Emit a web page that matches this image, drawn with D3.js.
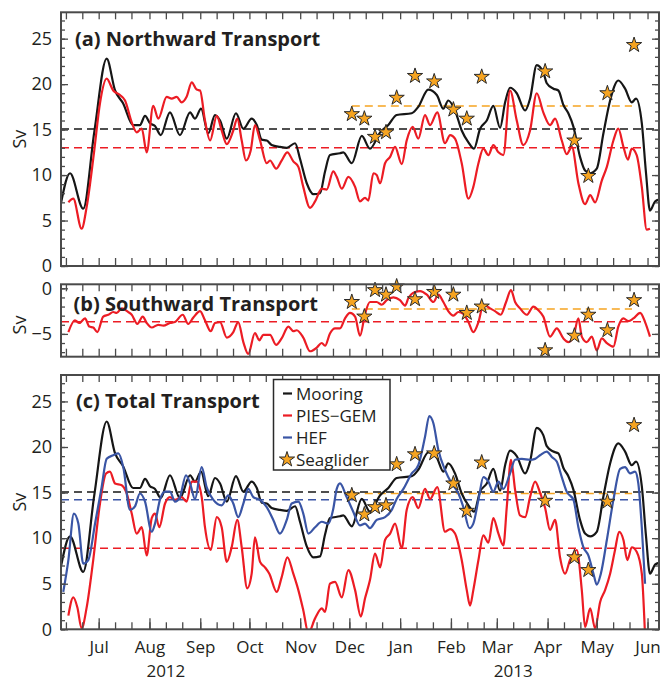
<!DOCTYPE html>
<html>
<head>
<meta charset="utf-8">
<script src="https://cdn.jsdelivr.net/npm/d3@7"></script>
<style>
  body { margin: 0; background: #fff; }
  svg { display: block; }
  text { font-family: "Open Sans", "DejaVu Sans", sans-serif; fill: #231f20; }
</style>
</head>
<body>
<svg id="chart" width="665" height="681"></svg>
<script>
// ---- record period ----
const recordStart = new Date(2012, 5, 8);
const recordEnd = new Date(2013, 5, 8);

// ---- transport time series: [day of record, Sv] ----
const mooring = [
  [0, 6.9], [5.5, 10.2], [13.6, 6.3], [20.3, 14.7], [27.9, 22.8], [33, 19.3], [37.9, 17.9],
  [44, 15.5], [48.2, 15.5], [51.3, 16.5], [54.3, 15.7], [57.4, 15.4], [60.9, 14.4], [66.5, 16.9],
  [72.6, 14.4], [78.8, 16.9], [81.8, 16.2], [85.5, 17.3], [89.9, 14.6], [94, 16.6], [97.1, 16.0],
  [101.2, 14.0], [106.8, 16.8], [111.3, 15.1], [116.4, 16.2], [119.5, 15.5], [122.5, 13.9],
  [125.6, 13.8], [128.6, 13.3], [133.7, 13.1], [137.8, 13.0], [142.9, 13.5], [145.9, 11.8],
  [150, 9.1], [154, 7.9], [158.1, 8.0], [161.2, 10.4], [164.2, 12.2], [170.3, 12.4], [172.3, 12.5],
  [177.5, 11.3], [183.6, 14.3], [188.6, 12.9], [194.8, 14.7], [199.8, 15.5], [204.9, 16.6],
  [214.1, 16.8], [218.1, 17.5], [224.2, 19.4], [229.4, 18.8], [233.4, 17.3], [236.4, 18.2],
  [240.5, 17.1], [244.6, 14.9], [248.7, 13.6], [252.1, 12.9], [255.8, 15.1], [259.9, 16.0],
  [263.9, 17.6], [268, 15.2], [271.1, 18.0], [274.1, 19.6], [278.2, 19.0], [283.3, 17.1],
  [286.3, 18.4], [290.4, 22.1], [294.4, 21.3], [296.5, 20.1], [300.5, 19.5], [303.6, 19.3],
  [306.7, 17.7], [309.7, 16.8], [312.8, 15.3], [316.8, 12.0], [319.9, 10.5], [323, 10.2],
  [327, 10.7], [331.1, 14.6], [335.2, 18.2], [340.2, 20.4], [344.3, 19.5], [348.4, 18.0],
  [351, 18.4], [354.5, 15.7], [357.1, 10.2], [359.5, 6.1], [362.6, 7.1], [365, 7.3]
];

const piesNorth = [
  [4.5, 7.0], [7.5, 7.4], [12.6, 4.1], [15.7, 6.5], [20.3, 12.7], [23.8, 17.9], [27.9, 20.6],
  [31.9, 19.3], [36, 18.8], [39.1, 18.2], [43.2, 15.8], [46.2, 14.7], [49.3, 15.1], [52.3, 12.5],
  [56.3, 17.6], [59.4, 16.2], [64.5, 18.6], [67.6, 18.4], [70.6, 18.6], [73.7, 18.0], [76.7, 18.6],
  [79.8, 20.2], [82.8, 19.4], [84.9, 19.3], [87.9, 16.0], [91, 13.8], [95.1, 16.5], [98.1, 14.9],
  [101.2, 13.4], [105.2, 14.9], [107.6, 16.2], [110.3, 13.8], [112.9, 11.6], [115.8, 12.7],
  [118.4, 15.5], [121.5, 13.8], [125.6, 11.3], [127.6, 11.6], [131.3, 10.7], [134.7, 11.6],
  [138.2, 12.5], [141.8, 11.5], [144.9, 10.9], [147.9, 8.7], [152, 6.4], [155.1, 7.1],
  [159.2, 8.5], [162.2, 8.4], [166.2, 10.4], [168.3, 9.8], [171.4, 8.5], [175.4, 9.8],
  [179.5, 8.7], [182.5, 7.1], [185.6, 7.5], [187.6, 7.2], [190.7, 10.2], [192.7, 10.0],
  [194.8, 9.1], [197.8, 11.3], [200.9, 12.0], [203.9, 13.1], [208, 11.2], [211, 13.8],
  [214.7, 15.3], [218.1, 14.0], [222.2, 16.6], [225.3, 15.5], [229.7, 16.9], [234.4, 13.5],
  [237.5, 14.4], [240.5, 14.0], [244.6, 11.3], [248.7, 7.4], [251.7, 8.7], [254.8, 11.3],
  [257.8, 12.9], [260.9, 12.2], [263.9, 13.3], [267, 12.5], [270, 12.2], [274.1, 19.3],
  [278.2, 16.0], [282.2, 13.3], [286.3, 14.9], [290.4, 19.0], [294.4, 16.9], [298.5, 15.5],
  [301.6, 16.2], [305.7, 13.8], [308.7, 12.3], [311.8, 13.1], [315.8, 9.1], [319.9, 6.8],
  [323, 7.8], [326, 7.0], [330.1, 9.4], [333.2, 10.9], [337.2, 13.8], [340.2, 15.1], [343.3, 13.1],
  [346, 11.7], [348.4, 12.9], [351.4, 12.2], [354.5, 8.7], [357.5, 4.0], [359.5, 4.1]
];

const piesSouth = [
  [4.5, -4.8], [8.5, -3.5], [11.2, -3.8], [14.7, -3.3], [17.3, -4.2], [19.7, -4.3], [22.2, -4.8],
  [25.8, -3.1], [28.9, -2.9], [31.9, -2.6], [34, -2.7], [37.1, -2.2], [41.1, -2.6], [43.2, -2.9],
  [46.6, -3.9], [49.9, -3.1], [52.3, -3.8], [55.4, -4.3], [59.4, -4.0], [62.5, -4.1], [66.5, -3.8],
  [69.6, -3.7], [74.3, -2.9], [77.7, -3.9], [80.8, -3.2], [84.9, -2.5], [87.9, -3.5], [91.4, -4.7],
  [94, -3.8], [97.1, -3.7], [101.2, -5.4], [105.2, -4.8], [108.2, -3.7], [111.3, -5.9],
  [114.3, -7.2], [118.4, -4.9], [121.1, -5.7], [123.5, -5.1], [127.6, -5.1], [131.3, -6.2],
  [134.7, -5.5], [138.8, -4.2], [141.8, -4.7], [143.9, -4.6], [147.9, -5.4], [152, -6.9],
  [156.1, -6.5], [159.2, -6.0], [161.2, -6.3], [164.2, -4.95], [167.3, -4.4], [170.3, -4.4],
  [173.4, -3.3], [176.4, -2.7], [179.5, -3.1], [182.5, -5.2], [185.6, -2.8], [188.6, -1.5],
  [192.7, -1.5], [195.8, -1.8], [198.8, -1.3], [202.9, -1.0], [206.9, -1.3], [210, -1.9],
  [212, -1.1], [216.1, -0.4], [219.2, -0.3], [223.3, -0.7], [227.3, -1.5], [230.3, -0.7],
  [233.4, -1.5], [236.4, -2.5], [239.5, -3.0], [242.6, -2.6], [245.6, -2.8], [248.7, -3.7],
  [251.7, -4.8], [254.8, -3.7], [257.8, -1.8], [261.9, -2.2], [264.9, -2.5], [268.4, -2.9],
  [271.7, -1.5], [274.7, -0.2], [277.2, -1.5], [280.2, -2.2], [284.3, -2.9], [288.3, -2.0],
  [291.4, -2.4], [294.4, -3.1], [298.5, -5.3], [302.6, -4.4], [306.7, -5.5], [309.7, -5.9],
  [312.8, -5.3], [315.8, -3.3], [317.9, -5.3], [320.9, -5.9], [324, -5.3], [327, -6.8],
  [330.1, -5.5], [333.2, -6.0], [337.2, -6.4], [340.2, -4.2], [343.3, -3.3], [346.3, -3.6],
  [349.4, -3.3], [353.5, -2.7], [356.5, -3.7], [359.5, -5.3]
];

const piesTotal = [
  [4.5, 1.5], [7.5, 3.5], [10, 2.4], [12.6, 0.1], [15.7, 2.4], [19.7, 7.6], [23.8, 13.8],
  [27.5, 17.1], [29.9, 17.3], [33, 16.0], [37.1, 15.8], [40.1, 14.9], [43.2, 12.7], [46.2, 10.5],
  [49.3, 11.2], [52.3, 8.1], [55.4, 12.2], [57.4, 12.7], [60, 11.2], [63.5, 13.8], [66.5, 14.5],
  [69.6, 14.2], [73.7, 14.5], [76.7, 14.0], [79.8, 16.2], [82.8, 16.2], [85.9, 14.5], [87.9, 11.2],
  [91.4, 8.7], [95.1, 12.3], [98.1, 11.2], [101.2, 7.4], [104.2, 9.0], [107.6, 12.0], [110.3, 9.0],
  [113.7, 4.5], [116.4, 6.1], [118.4, 10.1], [121.5, 7.4], [124.5, 6.8], [127.2, 6.1], [131.7, 4.1],
  [134.7, 5.7], [138.2, 7.9], [141.8, 6.1], [144.9, 4.3], [147.9, 2.1], [151, -0.4], [155.1, 1.2],
  [159.2, 2.3], [161.2, 1.9], [164.2, 5.0], [167.3, 5.2], [171.4, 3.5], [175.4, 6.5], [179.5, 4.3],
  [183, 1.4], [185.6, 3.4], [188.6, 5.4], [191.7, 8.3], [194.8, 6.8], [197.8, 9.8], [200.9, 10.5],
  [203.9, 11.6], [208, 8.9], [211, 13.1], [214.7, 14.5], [218.1, 13.3], [222.2, 15.4],
  [225.3, 14.3], [229.7, 15.6], [234.4, 10.7], [237.5, 11.0], [240.5, 10.5], [244.6, 7.6],
  [247.7, 4.3], [249.7, 2.6], [251.7, 4.3], [254.8, 7.6], [257.8, 10.3], [260.9, 9.5],
  [263.9, 12.2], [267, 10.5], [270, 9.2], [272.1, 13.4], [274.7, 18.6], [277.2, 15.3],
  [280.2, 12.5], [283.3, 12.3], [286.3, 14.5], [289.4, 16.2], [292.4, 15.0], [295.5, 13.3],
  [298.5, 10.9], [301.6, 12.0], [304.6, 7.9], [307.7, 6.1], [310.7, 7.6], [314.8, 8.7],
  [317.9, 4.3], [319.9, 0.25], [323, 2.3], [326, 0.1], [329.1, 3.0], [332.1, 4.3], [335.2, 6.1],
  [338.2, 8.7], [340.7, 10.7], [343.3, 9.8], [345.7, 7.6], [348.4, 9.0], [351.4, 8.5],
  [354.5, 6.1], [356.5, -0.8]
];

const hef = [
  [1.4, 4.1], [4.5, 7.6], [7.9, 12.7], [10.6, 11.6], [13.6, 7.2], [16.7, 7.6], [20.8, 11.6],
  [24.8, 15.6], [27.9, 18.7], [31.9, 19.1], [35, 19.3], [38, 17.8], [42.1, 13.1], [45.2, 13.5],
  [48.2, 14.9], [51.3, 14.0], [55.4, 10.7], [57.4, 11.6], [60.4, 14.2], [63.5, 15.1], [66.5, 15.1],
  [69.6, 14.0], [72.6, 14.5], [76.3, 16.9], [78.8, 16.0], [81.8, 14.3], [85.9, 17.8], [88.9, 15.6],
  [93, 14.2], [98.1, 13.6], [102.1, 14.7], [105.2, 13.8], [108.2, 12.3], [111.3, 13.8],
  [114.3, 15.4], [117.4, 14.5], [121.5, 14.2], [125.6, 13.4], [129.6, 12.0], [133.7, 10.5],
  [137.8, 12.0], [140.8, 13.8], [144.9, 14.0], [147.9, 12.7], [151, 10.5], [155.1, 11.2],
  [159.2, 11.8], [163.2, 11.6], [166.2, 13.2], [168.3, 15.4], [170.3, 16.0], [174.4, 14.5],
  [178.4, 12.9], [182.5, 11.4], [185.6, 11.6], [188.6, 11.1], [192.7, 12.0], [197.8, 12.3],
  [201.9, 13.1], [204.9, 14.3], [209, 15.4], [214.1, 17.1], [218.1, 18.0], [222.2, 21.1],
  [224.8, 23.4], [227.3, 22.6], [230.3, 19.7], [234.4, 17.5], [238.5, 16.0], [242.6, 14.9],
  [245.6, 13.4], [249.3, 11.1], [251.7, 11.6], [254.8, 14.2], [257.8, 16.7], [260.9, 16.2],
  [263.9, 15.1], [267, 16.2], [270, 15.4], [274.1, 17.1], [277.2, 18.6], [281.3, 18.7],
  [286.3, 18.6], [289.4, 18.7], [292.4, 19.1], [296.5, 19.5], [299.6, 18.9], [302.6, 18.4],
  [305.7, 16.7], [308.7, 15.1], [312.8, 14.2], [315.8, 11.2], [318.9, 9.0], [321.9, 8.1],
  [325, 6.1], [327, 4.9], [329.5, 6.1], [333.2, 9.8], [337.2, 14.2], [341.3, 17.6], [344.3, 17.8],
  [347.4, 17.1], [350.4, 17.3], [352.4, 16.0], [354.5, 11.2], [356.5, 5.0]
];

// ---- Seaglider section transports ----
const gliderDays = [177.5, 185.2, 191.7, 198.4, 204.9, 216.1, 227.8, 239.5, 247.7, 256.8,
  295.5, 313.4, 321.9, 333.5, 349.8];
const gliderNorth = [16.7, 16.2, 14.2, 14.7, 18.5, 20.9, 20.3, 17.2, 16.2, 20.8, 21.4, 13.8, 9.9, 19.0, 24.3];
const gliderSouth = [-1.5, -3.1, -0.2, -0.7, 0.2, -1.2, -0.4, -0.7, -2.7, -2.0, -6.8, -5.2, -2.9, -4.6, -1.3];
const gliderTotal = [14.7, 12.6, 13.4, 13.6, 18.1, 19.2, 19.3, 16.0, 13.0, 18.3, 14.1, 7.9, 6.5, 14.0, 22.4];

// ---- record means (Sv) ----
const meanNorth = { mooring: 15.07, pies: 13.0, glider: 17.6 };
const meanSouth = { pies: -3.66, glider: -2.27 };
const meanTotal = { mooring: 15.07, pies: 8.9, hef: 14.2, glider: 14.9 };
// day-of-record spans of each mean line
const meanSpan = { mooring: [0, 365], pies: [0, 354.5], hef: [0, 355.5], glider: [177.5, 348.5] };

// ---- labels ----
const panelTitles = ["(a) Northward Transport", "(b) Southward Transport", "(c) Total Transport"];
const legendLabels = ["Mooring", "PIES\u2212GEM", "HEF", "Seaglider"];
const yearLabels = [[new Date(2012, 7, 11), "2012"], [new Date(2013, 2, 11), "2013"]];

// ---- styling ----
const C = { mooring: "#161616", pies: "#ec1c24", hef: "#3a55a5", glider: "#f6a421", frame: "#4a4a4a" };

const svg = d3.select("#chart");
const left = 61, right = 659;
const x = d3.scaleTime().domain([recordStart, recordEnd]).range([left, right]);
const day = d => d3.timeHour.offset(recordStart, d * 24);

const allDays = d3.timeDay.range(recordStart, d3.timeDay.offset(recordEnd, 1));
const tickDays = allDays.filter(d => [1, 11, 21].includes(d.getDate()));
const monthDays = allDays.filter(d => d.getDate() === 1);

const panels = [
  { id: "a", top: 12.3, bottom: 266, domain: [0, 27.9], title: panelTitles[0], tx: 75, ty: 46,
    major: d3.range(0, 26, 5), minor: d3.range(0, 28, 1) },
  { id: "b", top: 284.3, bottom: 356.7, domain: [-7.5, 0.44], title: panelTitles[1], tx: 73.5, ty: 310.5,
    major: [-5, 0], minor: d3.range(-7, 1, 1) },
  { id: "c", top: 375, bottom: 629.3, domain: [0, 27.9], title: panelTitles[2], tx: 76, ty: 407.5,
    major: d3.range(0, 26, 5), minor: d3.range(0, 28, 1) }
];

panels.forEach(p => {
  p.y = d3.scaleLinear().domain(p.domain).range([p.bottom, p.top]);
  const g = svg.append("g").attr("class", "panel-" + p.id);
  p.g = g;
  svg.append("clipPath").attr("id", "clip-" + p.id)
    .append("rect").attr("x", left).attr("y", p.top).attr("width", right - left).attr("height", p.bottom - p.top);
  p.plot = g.append("g").attr("clip-path", `url(#clip-${p.id})`);
});

const line = y => d3.line().x(d => x(day(d[0]))).y(d => y(d[1])).curve(d3.curveMonotoneX);

function meanLine(p, value, span, color) {
  p.plot.append("line")
    .attr("x1", x(day(span[0]))).attr("x2", x(day(span[1])))
    .attr("y1", p.y(value)).attr("y2", p.y(value))
    .attr("stroke", color).attr("stroke-width", 1.5).attr("stroke-dasharray", "8,5");
}
function series(p, data, color) {
  p.plot.append("path").datum(data).attr("d", line(p.y))
    .attr("fill", "none").attr("stroke", color).attr("stroke-width", 2.2)
    .attr("stroke-linejoin", "round");
}
const star = d3.symbol().type(d3.symbolStar).size(72);
function stars(p, values) {
  p.g.append("g").selectAll("path").data(gliderDays.map((d, i) => [d, values[i]])).join("path")
    .attr("d", star)
    .attr("transform", d => `translate(${x(day(d[0]))},${p.y(d[1])})`)
    .attr("fill", C.glider).attr("stroke", "#2a2a2a").attr("stroke-width", 1);
}

// panel (a): northward
const [pa, pb, pc] = panels;
meanLine(pa, meanNorth.pies, meanSpan.pies, C.pies);
meanLine(pa, meanNorth.mooring, meanSpan.mooring, C.mooring);
meanLine(pa, meanNorth.glider, meanSpan.glider, C.glider);
series(pa, mooring, C.mooring);
series(pa, piesNorth, C.pies);
stars(pa, gliderNorth);

// panel (b): southward
meanLine(pb, meanSouth.pies, meanSpan.pies, C.pies);
meanLine(pb, meanSouth.glider, meanSpan.glider, C.glider);
series(pb, piesSouth, C.pies);
stars(pb, gliderSouth);

// panel (c): total
meanLine(pc, meanTotal.pies, meanSpan.pies, C.pies);
meanLine(pc, meanTotal.glider, meanSpan.glider, C.glider);
meanLine(pc, meanTotal.mooring, meanSpan.mooring, C.mooring);
meanLine(pc, meanTotal.hef, meanSpan.hef, C.hef);
series(pc, mooring, C.mooring);
series(pc, piesTotal, C.pies);
series(pc, hef, C.hef);
stars(pc, gliderTotal);

// axes, frames and titles
function styleAxis(sel) {
  sel.select(".domain").remove();
  sel.selectAll(".tick line").attr("stroke", C.frame).attr("stroke-width", 1.3);
  sel.selectAll("text").attr("font-size", 18).attr("fill", "#231f20")
    .attr("font-family", "\"Open Sans\", sans-serif");
}
panels.forEach((p, i) => {
  const g = p.g;
  const last = i === panels.length - 1;
  // x ticks, inward on both edges
  g.append("g").attr("transform", `translate(0,${p.top})`)
    .call(d3.axisTop(x).tickValues(tickDays).tickSize(-7).tickFormat("")).call(styleAxis);
  g.append("g").attr("transform", `translate(0,${p.bottom})`)
    .call(d3.axisBottom(x).tickValues(tickDays).tickSize(last ? -7 : -8).tickFormat("")).call(styleAxis);
  if (last) {
    g.append("g").attr("transform", `translate(0,${p.bottom})`)
      .call(d3.axisBottom(x).tickValues(monthDays).tickSize(-11).tickPadding(12)
        .tickFormat(d3.timeFormat("%b"))).call(styleAxis)
      .selectAll("text").attr("font-size", 17);
  }
  // y ticks, inward on both edges
  g.append("g").attr("transform", `translate(${left},0)`)
    .call(d3.axisLeft(p.y).tickValues(p.minor).tickSize(-4).tickFormat("")).call(styleAxis);
  g.append("g").attr("transform", `translate(${left},0)`)
    .call(d3.axisLeft(p.y).tickValues(p.major).tickSize(-7).tickPadding(9).tickFormat(d3.format("d")))
    .call(styleAxis);
  g.append("g").attr("transform", `translate(${right},0)`)
    .call(d3.axisRight(p.y).tickValues(p.minor).tickSize(-4).tickFormat("")).call(styleAxis);
  g.append("g").attr("transform", `translate(${right},0)`)
    .call(d3.axisRight(p.y).tickValues(p.major).tickSize(-7).tickFormat("")).call(styleAxis);
  // frame
  g.append("rect").attr("x", left).attr("y", p.top).attr("width", right - left).attr("height", p.bottom - p.top)
    .attr("fill", "none").attr("stroke", C.frame).attr("stroke-width", 2);
  // unit label
  const cy = i === 1 ? 325 : (p.top + p.bottom) / 2;
  g.append("text").attr("transform", `translate(26,${cy}) rotate(-90)`)
    .attr("text-anchor", "middle").attr("font-size", 18).text("Sv");
  // panel title
  g.append("text").attr("x", p.tx).attr("y", p.ty).attr("font-size", 20).attr("font-weight", 700)
    .text(p.title);
});

// year labels under the month axis
svg.append("g").selectAll("text").data(yearLabels).join("text")
  .attr("x", d => x(d[0])).attr("y", 677).attr("text-anchor", "middle").attr("font-size", 17)
  .text(d => d[1]);

// legend
const leg = svg.append("g").attr("class", "legend");
leg.append("rect").attr("x", 273.5).attr("y", 379.5).attr("width", 116.5).attr("height", 90.5)
  .attr("fill", "#fff").attr("stroke", "#2a2a2a").attr("stroke-width", 1.5);
const legColors = [C.mooring, C.pies, C.hef, null];
legendLabels.forEach((label, i) => {
  const by = 399.5 + i * 22;
  const cy = by - 6;
  if (legColors[i]) {
    leg.append("line").attr("x1", 283).attr("x2", 292).attr("y1", cy).attr("y2", cy)
      .attr("stroke", legColors[i]).attr("stroke-width", 2.2);
  } else {
    leg.append("path").attr("d", star).attr("transform", `translate(287,${cy})`)
      .attr("fill", C.glider).attr("stroke", "#2a2a2a").attr("stroke-width", 1);
  }
  leg.append("text").attr("x", 296).attr("y", by).attr("font-size", 17).text(label);
});
</script>
</body>
</html>
